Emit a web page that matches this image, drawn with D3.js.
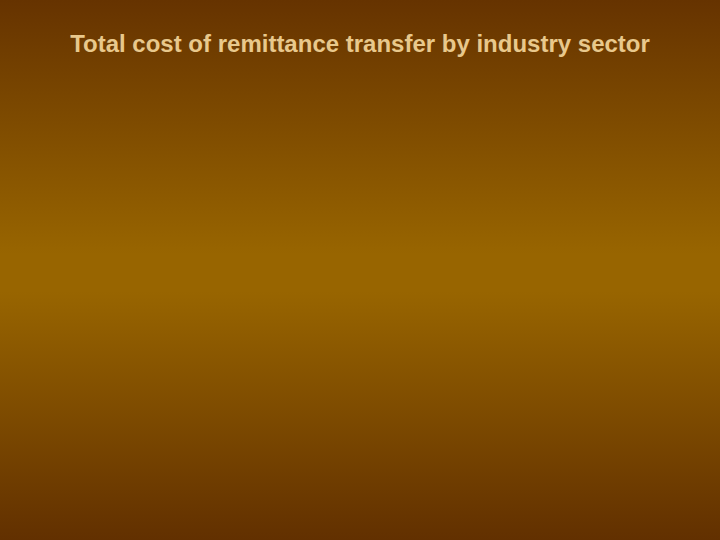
<!DOCTYPE html>
<html>
<head>
<meta charset="utf-8">
<script src="https://cdn.jsdelivr.net/npm/d3@7"></script>
<style>
  html, body { margin: 0; padding: 0; background: #663300; }
</style>
</head>
<body>
<div class="chart"></div>
<script>
// 数据
var title = "Total cost of remittance transfer by industry sector";
var categories = [];
var values = [];

// 画布
var width = 720, height = 540;
var svg = d3.select(".chart").append("svg")
            .attr("width", width)
            .attr("height", height)
            .style("display", "block");

// 背景渐变
var grad = svg.append("defs").append("linearGradient")
              .attr("id", "bg")
              .attr("x1", 0).attr("y1", 0).attr("x2", 0).attr("y2", 1);
grad.append("stop").attr("offset", "0%").attr("stop-color", "#663300");
grad.append("stop").attr("offset", "47%").attr("stop-color", "#986500");
grad.append("stop").attr("offset", "54%").attr("stop-color", "#986500");
grad.append("stop").attr("offset", "100%").attr("stop-color", "#623000");

svg.append("rect")
   .attr("width", width)
   .attr("height", height)
   .attr("fill", "url(#bg)");

// 标题
svg.append("text")
   .attr("x", width / 2)
   .attr("y", 52)
   .attr("text-anchor", "middle")
   .style("font-family", "Arial, 'Liberation Sans', sans-serif")
   .style("font-weight", "bold")
   .style("font-size", "24px")
   .style("fill", "#e8c88c")
   .text(title);
</script>
</body>
</html>
